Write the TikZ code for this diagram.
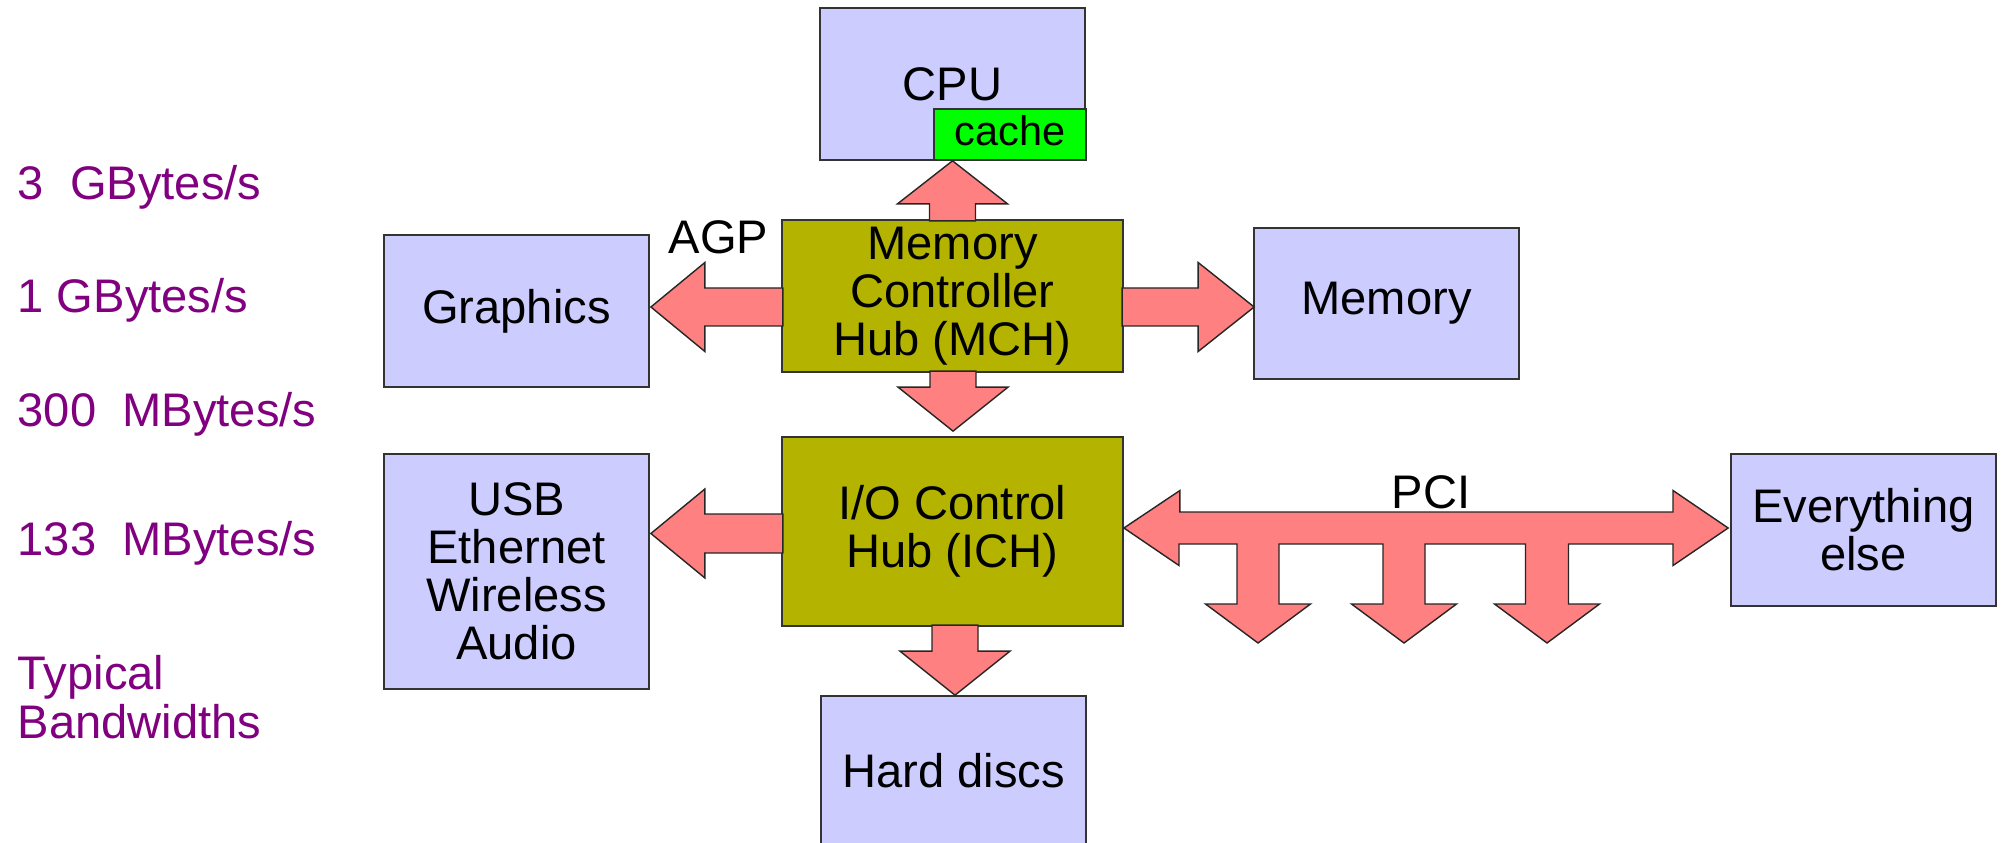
\documentclass[tikz,border=0pt]{standalone}
\usepackage{fontspec}
\setmainfont{Liberation Sans}
\usetikzlibrary{calc}

\definecolor{unitfill}{HTML}{CCCCFF}
\definecolor{hubfill}{HTML}{B4B400}
\definecolor{busfill}{HTML}{FF8080}
\definecolor{cachefill}{HTML}{00FF00}
\definecolor{ratecol}{HTML}{800080}

\newcommand\mainsize{\fontsize{13.4pt}{13.66pt}\selectfont}
\newcommand\cachesize{\fontsize{11.8pt}{12pt}\selectfont}

\tikzset{
  unit/.style={draw=black!80, line width=0.45pt, fill=unitfill, inner sep=0pt,
    align=center, font=\mainsize},
  hub/.style={unit, fill=hubfill},
  busarrow/.style={draw=black!85, line width=0.4pt, fill=busfill, line join=miter},
  rate/.style={text=ratecol, anchor=base west, inner sep=0pt, font=\mainsize, align=left},
  buslabel/.style={anchor=base, inner sep=0pt, font=\mainsize},
  % block arrow with its tip at the origin, pointing along +x:
  % #1 total length, #2 head length, #3 head half-width, #4 shaft half-width
  pics/blockarrow/.style n args={4}{code={
    \path[busarrow] (0,0) -- (-#2,#3) -- (-#2,#4) -- (-#1,#4) -- (-#1,-#4)
      -- (-#2,-#4) -- (-#2,-#3) -- cycle;
  }}
}

\begin{document}
\begin{tikzpicture}[x=0.01cm, y=-0.01cm]
\useasboundingbox (0,0) rectangle (2001,843);

% functional units
\node[unit, minimum width=2.65cm, minimum height=1.52cm] (cpu) at (952.5,84) {CPU};
\node[unit, fill=cachefill, minimum width=1.52cm, minimum height=0.51cm, font=\cachesize,
  text depth=0.09cm] (cache) at (1010,134.5) {cache};
\node[hub, minimum width=3.41cm, minimum height=1.52cm] (mch) at (952.5,296)
  {Memory\\Controller\\Hub (MCH)};
\node[unit, minimum width=2.65cm, minimum height=1.52cm] (graphics) at (516.5,311) {Graphics};
\node[unit, minimum width=2.65cm, minimum height=1.51cm] (memory) at (1386.5,303.5) {Memory};
\node[hub, minimum width=3.41cm, minimum height=1.89cm] (ich) at (952.5,531.5)
  {I/O Control\\Hub (ICH)};
\node[unit, minimum width=2.65cm, minimum height=2.35cm] (usb) at (516.5,571.5)
  {USB\\Ethernet\\Wireless\\Audio};
\node[unit, minimum width=2.65cm, minimum height=1.52cm] (else) at (1863.5,530)
  {Everything\\else};
\node[unit, minimum width=2.65cm, minimum height=1.50cm] (hard) at (953.5,771) {Hard discs};

% arrow tips that sit beside the boxes
\coordinate (agptip) at ($(graphics.east)+(1,-4)$);
\coordinate (memtip) at ($(memory.west)+(1,3.5)$);
\coordinate (ichtip) at ($(ich.north)+(0.5,-5)$);
\coordinate (usbtip) at ($(usb.east)+(1,-38)$);
\coordinate (pcil) at ($(ich.east)+(0,-3.5)$);
\coordinate (pcir) at ($(else.west)+(-2,-2)$);

% hub links
\pic[rotate=90]  at (cpu.south) {blockarrow={60}{43}{55}{23}};
\pic[rotate=180] at (agptip)    {blockarrow={132}{54}{44.5}{19}};
\pic             at (memtip)    {blockarrow={132}{56}{44.5}{19}};
\pic[rotate=-90] at (ichtip)    {blockarrow={60}{44}{55}{23}};
\pic[rotate=180] at (usbtip)    {blockarrow={132}{54}{44.5}{19.5}};
\pic[rotate=-90] at ($(hard.north)+(1.5,0)$) {blockarrow={70}{44}{55}{23}};

% PCI bus with its three slots
\path[busarrow] (pcil) -- ++(56,-37.5) -- ++(0,21.5) -- (1673,512) -- ++(0,-21.5)
  -- (pcir) -- (1673,565.5) -- (1673,544)
  -- (1568.5,544) -- (1568.5,604) -- (1599.5,604) -- (1547,643) -- (1494.5,604)
  -- (1525.5,604) -- (1525.5,544)
  -- (1425,544) -- (1425,604) -- (1456.5,604) -- (1404,643) -- (1351.5,604)
  -- (1383,604) -- (1383,544)
  -- (1279,544) -- (1279,604) -- (1310.5,604) -- (1258,643) -- (1205.5,604)
  -- (1237,604) -- (1237,544)
  -- (1179,544) -- (1179,565.5) -- cycle;

% bus names
\node[buslabel] (agp) at (718.5,254) {AGP};
\node[buslabel] (pci) at (1431,508) {PCI};

% bandwidth scale (multi-line node sits on its last baseline)
\node[rate] (bw3g)   at (17,200) {3\ \ GBytes/s};
\node[rate] (bw1g)   at (17,313) {1 GBytes/s};
\node[rate] (bw300m) at (17,426) {300\ \ MBytes/s};
\node[rate] (bw133m) at (17,555) {133\ \ MBytes/s};
\node[rate] (bwtitle) at (17,738) {Typical\\Bandwidths};
\end{tikzpicture}
\end{document}
